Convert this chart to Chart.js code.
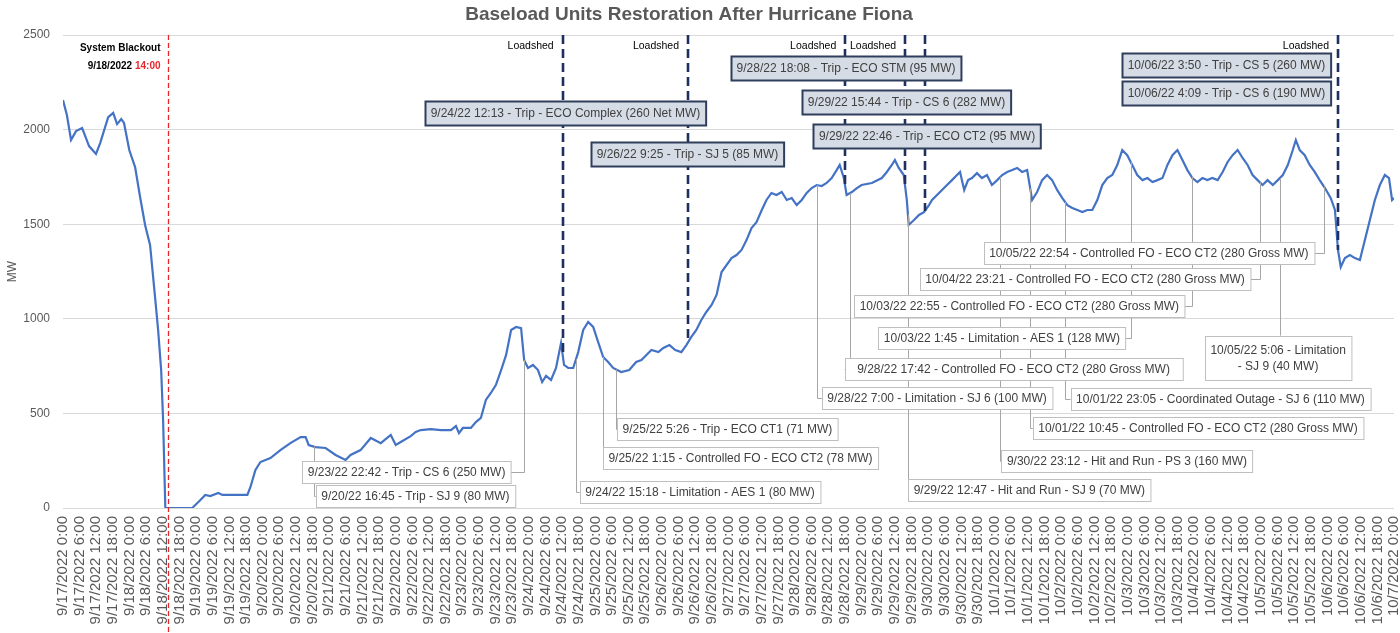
<!DOCTYPE html>
<html>
<head>
<meta charset="utf-8">
<title>Baseload Units Restoration After Hurricane Fiona</title>
<script src="https://cdn.jsdelivr.net/npm/chart.js@4.4.1/dist/chart.umd.min.js"></script>
<style>
  html, body { margin: 0; padding: 0; background: #fff; }
  #wrap { position: relative; width: 1400px; height: 633px; }
</style>
</head>
<body>
<div id="wrap"><canvas id="fiona"></canvas></div>
<script>
// hours since 9/17/2022 0:00 and generation in MW
const hours = [0, 1.4, 2.9, 4.7, 6.9, 9.4, 11.9, 13.4, 16.3, 18.1, 19.5, 21, 22, 23.9, 26, 27.8, 29.6, 31.4, 33.3, 34.3,
  35.4, 36.1, 36.9, 46.6, 49.2, 51.3, 53.1, 56, 57.5, 66.5, 67.6, 69.4, 71.2, 74.8, 78.4, 82, 85.7, 87.5, 88.6, 91,
  94.7, 98.3, 101.9, 103.7, 107.3, 111, 114.6, 118.2, 120, 121.8, 125.4, 127.2, 129, 132.6, 136.3, 139.9, 141.7, 142.8, 144.2, 147.1,
  148.9, 150.7, 152.5, 154.3, 156.1, 158, 159.8, 161.6, 163.4, 165.2, 166.3, 167.7, 169.5, 171.3, 172.8, 174.2, 176, 177.8, 179.6, 180.7,
  182.2, 184, 185.8, 187.6, 189.4, 191.2, 193, 194.8, 196.6, 198.4, 201.3, 204.2, 206.7, 208.6, 210.4, 212.2, 214.7, 216.5, 218.7, 220.8,
  223, 224.8, 226.6, 228.4, 230.2, 232, 233.9, 235.7, 237.5, 241.1, 242.9, 244.7, 246.5, 248.3, 250.1, 252, 253.7, 255.5, 257.3, 259.2,
  261, 262.8, 264.6, 266.4, 268.2, 270, 271.8, 273.6, 275.4, 277.2, 279, 280.1, 281.6, 282.6, 284.5, 286.3, 288, 291.7, 295.3, 297.1,
  298.9, 300, 301.4, 303.2, 304.3, 305, 306.9, 308.7, 310.5, 312.3, 313.4, 315.2, 317, 318.8, 320.6, 322.4, 323.5, 325, 326.4, 327.8,
  329.6, 331.4, 333.2, 335, 336.9, 338.7, 340.5, 342.3, 344.1, 345.9, 347.7, 349.5, 351.3, 353.1, 354.9, 356.7, 358.5, 360.4, 362.2, 364,
  365.8, 367.6, 369.4, 371.2, 373, 374.8, 376.6, 378.4, 380.2, 382, 383.8, 385.6, 387.4, 389.3, 391.1, 392.9, 394.7, 396.5, 398.3, 400.1,
  401.9, 403.7, 405.5, 407.3, 409.1, 410.9, 412.7, 414.5, 416.4, 418.2, 420, 421.8, 423.6, 425.4, 427.2, 429, 430.8, 432.6, 434.4, 436.3,
  438.1, 439.9, 441.7, 443.5, 444.6, 446, 447.8, 449.6, 451.4, 453.2, 455.1, 457.2, 458.7, 459.8, 460.8, 462.3, 464.1, 465.9, 467.7, 469.5,
  471.3, 473.1, 474.9, 476.7, 478.2, 479.3, 480];
const mw = [2156, 2077, 1945, 1992, 2008, 1913, 1871, 1929, 2066, 2088, 2029, 2056, 2035, 1892, 1802, 1644, 1496, 1390, 1099, 941,
  729, 465, 0, 0, 37, 69, 63, 79, 69, 69, 111, 201, 243, 264, 306, 343, 375, 375, 333, 322,
  317, 280, 254, 280, 306, 370, 343, 386, 333, 349, 380, 402, 412, 417, 412, 412, 433, 396, 423, 423,
  454, 476, 571, 608, 650, 729, 809, 941, 957, 951, 782, 740, 756, 729, 666, 698, 677, 740, 872, 756,
  740, 740, 824, 941, 983, 957, 877, 798, 772, 740, 719, 729, 772, 782, 809, 835, 824, 846, 861, 835,
  824, 861, 904, 941, 994, 1036, 1073, 1126, 1247, 1321, 1337, 1364, 1416, 1480, 1511, 1575, 1628, 1665, 1654, 1670,
  1628, 1638, 1601, 1628, 1665, 1691, 1707, 1702, 1718, 1744, 1786, 1813, 1744, 1654, 1670, 1691, 1707, 1718, 1744, 1776,
  1813, 1839, 1797, 1760, 1628, 1496, 1522, 1549, 1564, 1601, 1628, 1654, 1681, 1707, 1733, 1760, 1776, 1681, 1733, 1744,
  1770, 1744, 1760, 1707, 1733, 1760, 1776, 1786, 1797, 1776, 1786, 1628, 1670, 1733, 1760, 1733, 1681, 1638, 1601, 1586,
  1575, 1564, 1575, 1575, 1628, 1707, 1744, 1760, 1813, 1892, 1865, 1813, 1760, 1733, 1744, 1723, 1733, 1744, 1813, 1865,
  1892, 1839, 1786, 1744, 1723, 1744, 1733, 1744, 1733, 1776, 1829, 1865, 1892, 1850, 1813, 1760, 1733, 1707, 1733, 1707,
  1733, 1760, 1813, 1892, 1945, 1892, 1865, 1813, 1776, 1733, 1691, 1638, 1575, 1364, 1274, 1321, 1337, 1321, 1311, 1416,
  1522, 1628, 1707, 1760, 1744, 1628, 1638];

const dayLabels = ['9/17/2022', '9/18/2022', '9/19/2022', '9/20/2022', '9/21/2022', '9/22/2022', '9/23/2022',
  '9/24/2022', '9/25/2022', '9/26/2022', '9/27/2022', '9/28/2022', '9/29/2022', '9/30/2022', '10/1/2022',
  '10/2/2022', '10/3/2022', '10/4/2022', '10/5/2022', '10/6/2022', '10/7/2022'];
const timeLabels = ['0:00', '6:00', '12:00', '18:00'];
const yTicks = [0, 500, 1000, 1500, 2000, 2500];

// events
const blackoutHour = 38;                      // 9/18/2022 14:00
const loadshedHours = [180.2, 225.4, 282.1, 303.7, 310.8, 459.8];
const loadshedTags = ['Loadshed', 'Loadshed', 'Loadshed', 'Loadshed', '', 'Loadshed'];

const tripNotes = [
  '9/24/22 12:13 - Trip - ECO Complex (260 Net MW)',
  '9/26/22 9:25 - Trip - SJ 5 (85 MW)',
  '9/28/22 18:08 - Trip - ECO STM (95 MW)',
  '9/29/22 15:44 - Trip - CS 6 (282 MW)',
  '9/29/22 22:46 - Trip - ECO CT2 (95 MW)',
  '10/06/22 3:50 - Trip - CS 5 (260 MW)',
  '10/06/22 4:09 - Trip - CS 6 (190 MW)'
];
const otherNotes = [
  ['10/05/22 22:54 - Controlled FO - ECO CT2 (280 Gross MW)'],
  ['10/04/22 23:21 - Controlled FO - ECO CT2 (280 Gross MW)'],
  ['10/03/22 22:55 - Controlled FO - ECO CT2 (280 Gross MW)'],
  ['10/03/22 1:45 - Limitation - AES 1 (128 MW)'],
  ['9/28/22 17:42 - Controlled FO - ECO CT2 (280 Gross MW)'],
  ['9/28/22 7:00 - Limitation - SJ 6 (100 MW)'],
  ['10/01/22 23:05 - Coordinated Outage - SJ 6 (110 MW)'],
  ['10/01/22 10:45 - Controlled FO - ECO CT2 (280 Gross MW)'],
  ['9/30/22 23:12 - Hit and Run - PS 3 (160 MW)'],
  ['9/29/22 12:47 - Hit and Run - SJ 9 (70 MW)'],
  ['10/05/22 5:06 - Limitation', '- SJ 9 (40 MW)'],
  ['9/25/22 5:26 - Trip - ECO CT1 (71 MW)'],
  ['9/25/22 1:15 - Controlled FO - ECO CT2 (78 MW)'],
  ['9/24/22 15:18 - Limitation - AES 1 (80 MW)'],
  ['9/23/22 22:42 - Trip - CS 6 (250 MW)'],
  ['9/20/22 16:45 - Trip - SJ 9 (80 MW)']
];

// where the note boxes sit, in axis units (hour, MW) of the box centre
const tripLayout = [[181.2, 2090], [225.2, 1871], [282.4, 2326], [304.2, 2148], [311.6, 1966], [419.6, 2339], [419.6, 2191]];
// [centre hour, centre MW, leader hour, leader side, extra width px]
const otherLayout = [
  [391.6, 1348, 454.7, 'right', 0], [368.6, 1208, 431.6, 'right', 0], [344.9, 1068, 407, 'right', 0],
  [338.6, 896, 385, 'right', 0], [342.8, 735, 283.7, 'left', 14], [315.2, 584, 271.8, 'left', 0],
  [417.4, 576, 361.4, 'left', 0], [409.3, 423, 348.8, 'left', 0], [383.7, 248, 338, 'left', 0],
  [348.5, 95, 304.7, 'left', 0], [438.2, 795, 438.8, 'top', 0], [239.6, 418, 199.5, 'left', 0],
  [244.3, 262, 194.8, 'left', 0], [229.7, 87, 185, 'left', 0], [123.9, 188, 166.3, 'right', 0],
  [127.1, 61, 90.4, 'left', 0]
];

const tickHours = [];
dayLabels.forEach((d, i) => timeLabels.forEach((t, j) => {
  const h = i * 24 + j * 6;
  if (h <= 480) tickHours.push(h);
}));

function tickText(h) {
  return dayLabels[Math.floor(h / 24)] + ' ' + timeLabels[(h % 24) / 6];
}

function valueAt(h) {
  for (let i = 1; i < hours.length; i++) {
    if (hours[i] >= h) {
      const t = (h - hours[i - 1]) / (hours[i] - hours[i - 1]);
      return mw[i - 1] + t * (mw[i] - mw[i - 1]);
    }
  }
  return mw[mw.length - 1];
}

const FONT = '"Liberation Sans", Arial, sans-serif';
const noteFont = '12px ' + FONT;

function noteSize(ctx, lines, extra) {
  ctx.font = noteFont;
  const multi = lines.length > 1;
  return {
    w: Math.max(...lines.map(l => ctx.measureText(l).width)) + 11 + (extra || 0),
    h: multi ? lines.length * 16 + 12 : 22,
    lh: multi ? 16 : 14
  };
}

function box(ctx, cx, cy, lines, filled, extra) {
  const s = noteSize(ctx, lines, extra);
  const h = s.h + (filled ? 2 : 0);
  const x = Math.round(cx - s.w / 2) + 0.5, y = Math.round(cy - h / 2) + 0.5;
  ctx.fillStyle = filled ? '#d6dce5' : '#ffffff';
  ctx.fillRect(x, y, s.w, h);
  ctx.lineWidth = filled ? 2 : 1;
  ctx.strokeStyle = filled ? '#2f3e5c' : '#bfbfbf';
  ctx.strokeRect(x, y, s.w, h);
  ctx.fillStyle = '#404040';
  ctx.textAlign = 'center';
  ctx.textBaseline = 'middle';
  lines.forEach((l, i) => ctx.fillText(l, cx, y + h / 2 + (i - (lines.length - 1) / 2) * s.lh + 0.5));
}

const notesPlugin = {
  id: 'notes',
  afterDatasetsDraw(chart) {
    const { ctx, chartArea, scales: { x, y } } = chart;
    ctx.save();

    // blackout marker
    const bx = Math.round(x.getPixelForValue(blackoutHour)) + 0.5;
    ctx.strokeStyle = '#e8262b';
    ctx.lineWidth = 1.3;
    ctx.setLineDash([5, 3]);
    ctx.beginPath();
    ctx.moveTo(bx, chartArea.top);
    ctx.lineTo(bx, chart.height);
    ctx.stroke();

    // loadshed markers
    ctx.strokeStyle = '#1f3060';
    ctx.lineWidth = 2.6;
    ctx.setLineDash([9, 5]);
    loadshedHours.forEach(h => {
      const px = Math.round(x.getPixelForValue(h));
      ctx.beginPath();
      ctx.moveTo(px, chartArea.top);
      ctx.lineTo(px, y.getPixelForValue(valueAt(h)));
      ctx.stroke();
    });
    ctx.setLineDash([]);

    // leader lines, then the boxes over them
    ctx.strokeStyle = '#a6a6a6';
    ctx.lineWidth = 1;
    otherLayout.forEach((L, i) => {
      const s = noteSize(ctx, otherNotes[i], L[4]);
      const cx = x.getPixelForValue(L[0]), cy = y.getPixelForValue(L[1]);
      const lx = Math.round(x.getPixelForValue(L[2])) + 0.5;
      const ly = y.getPixelForValue(valueAt(L[2]));
      const my = Math.round(cy) + 0.5;
      ctx.beginPath();
      ctx.moveTo(lx, ly);
      if (L[3] === 'top') {
        ctx.lineTo(lx, cy - s.h / 2);
      } else {
        ctx.lineTo(lx, my);
        ctx.lineTo(L[3] === 'left' ? cx - s.w / 2 : cx + s.w / 2, my);
      }
      ctx.stroke();
    });
    otherLayout.forEach((L, i) => box(ctx, x.getPixelForValue(L[0]), y.getPixelForValue(L[1]), otherNotes[i], false, L[4]));
    tripLayout.forEach((L, i) => box(ctx, x.getPixelForValue(L[0]), y.getPixelForValue(L[1]), [tripNotes[i]], true, 0));

    // marker captions
    ctx.fillStyle = '#000';
    ctx.textBaseline = 'middle';
    ctx.textAlign = 'right';
    ctx.font = '10.5px ' + FONT;
    loadshedHours.forEach((h, i) => {
      if (loadshedTags[i]) ctx.fillText(loadshedTags[i], x.getPixelForValue(h) - 9, chartArea.top + 11);
    });
    ctx.font = 'bold 10px ' + FONT;
    const rx = bx - 8;
    ctx.fillText('System Blackout', rx, chartArea.top + 13);
    const red = '14:00';
    const rw = ctx.measureText(red).width;
    ctx.fillStyle = '#e8262b';
    ctx.fillText(red, rx, chartArea.top + 31);
    ctx.fillStyle = '#000';
    ctx.fillText('9/18/2022 ', rx - rw, chartArea.top + 31);

    // title
    ctx.font = 'bold 19px ' + FONT;
    ctx.fillStyle = '#595959';
    ctx.textAlign = 'center';
    ctx.fillText('Baseload Units Restoration After Hurricane Fiona', 689, 15);
    ctx.restore();
  }
};

new Chart(document.getElementById('fiona'), {
  type: 'line',
  data: {
    datasets: [{
      label: 'MW',
      data: hours.map((h, i) => ({ x: h, y: mw[i] })),
      borderColor: '#4472c4',
      borderWidth: 2.2,
      pointRadius: 0,
      tension: 0,
      fill: false
    }]
  },
  options: {
    responsive: true,
    maintainAspectRatio: false,
    animation: false,
    layout: { padding: { top: 35, right: 6, left: 0, bottom: 0 } },
    plugins: {
      legend: { display: false },
      tooltip: { enabled: false },
      title: { display: false }
    },
    scales: {
      x: {
        type: 'linear',
        min: 0,
        max: 480,
        afterBuildTicks: axis => { axis.ticks = tickHours.map(v => ({ value: v })); },
        afterFit: axis => { axis.height = 125; axis.paddingLeft = 0; axis.paddingRight = 0; },
        grid: { display: false },
        border: { display: false },
        ticks: {
          autoSkip: false,
          maxRotation: 90,
          minRotation: 90,
          padding: 0,
          color: '#595959',
          font: { family: FONT, size: 15 },
          callback: v => tickText(v)
        }
      },
      y: {
        min: 0,
        max: 2500,
        afterBuildTicks: axis => { axis.ticks = yTicks.map(v => ({ value: v })); },
        afterFit: axis => { axis.width = 63; },
        grid: { color: '#d9d9d9', drawTicks: false },
        border: { display: false },
        title: { display: true, text: 'MW', color: '#595959', font: { family: FONT, size: 12 }, padding: { top: 5, bottom: 0 } },
        ticks: { padding: 13, color: '#595959', font: { family: FONT, size: 12 }, callback: v => String(v) }
      }
    }
  },
  plugins: [notesPlugin]
});
</script>
</body>
</html>
